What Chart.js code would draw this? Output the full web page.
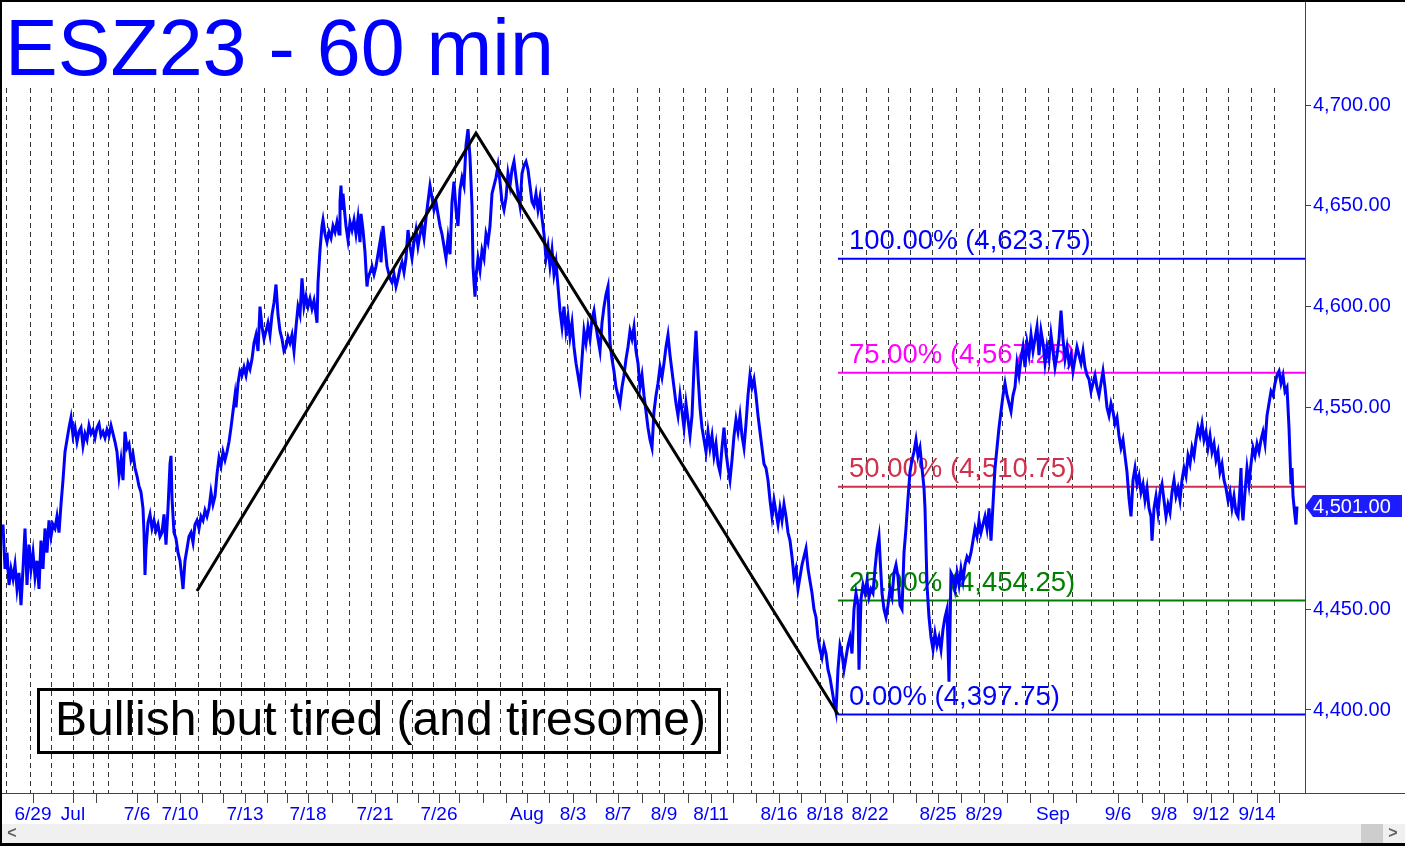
<!DOCTYPE html>
<html>
<head>
<meta charset="utf-8">
<title>ESZ23 - 60 min</title>
<script src="https://cdn.jsdelivr.net/npm/chart.js@4.4.0/dist/chart.umd.min.js"></script>
<style>
  html, body { margin: 0; padding: 0; background: #fff; }
  canvas { display: block; }
</style>
</head>
<body>
<canvas id="chart" width="1405" height="846"></canvas>
<script>
'use strict';

// hourly closes as [bar, price]; bar = hourly bar count from the left edge
const closesJul = [
  [3,4492],[5,4470],[7,4478],[9,4462],[11,4470],[13,4465],[15,4472],[17,4460],[19,4468],[21,4452],
  [23,4470],[25,4490],[27,4462],[29,4482],[31,4470],[33,4478],[35,4466],[37,4474],[39,4460],[41,4484],
  [43,4470],[45,4490],[47,4478],[49,4494],[51,4486],[53,4492],[55,4490],[57,4496],[59,4488],[61,4502],
  [63,4514],[65,4528],[67,4534],[69,4540],[71,4545],[73,4536],[75,4540],[77,4533],[79,4538],[81,4540],
  [83,4531],[85,4537],[87,4534],[89,4541],[91,4537],[93,4539],[95,4535],[97,4540],[99,4542],[101,4536],
  [103,4538],[105,4535],[107,4539],[109,4536],[111,4541],[113,4537],[115,4533],[117,4528],[119,4516],[121,4524],
  [123,4514],[125,4538],[127,4530],[129,4532],[131,4524],[133,4527],[135,4520],[137,4516],[139,4511],[141,4508],
  [143,4500],[144,4488],[145,4467],[146,4480],[148,4493],[150,4497],[152,4490],[154,4494],[156,4489],[158,4492],
  [160,4486],[162,4488],[164,4497],[166,4482],[168,4500],[170,4522],[171,4526],[172,4505],[174,4488],[176,4485],
  [178,4478],[180,4474],[182,4465],[183,4460],[185,4474],[187,4480],[189,4486],[191,4488],[193,4483],[195,4492],
  [197,4494],[199,4490],[201,4496],[203,4494],[205,4499],[207,4496],[209,4500],[211,4508],[213,4502],[215,4506],
  [217,4517],[219,4525],[221,4521],[223,4528],[225,4524],[227,4528],[229,4533],[231,4540],[233,4548],[235,4556],
  [236,4550],[238,4562],[240,4568],[242,4566],[244,4570],[246,4566],[248,4572],[250,4569],[252,4574],[254,4582],
  [256,4586],[258,4578],[260,4600],[262,4590],[264,4584],[266,4588],[268,4592],[270,4586],[272,4596],[274,4602],
  [276,4611],[278,4596],[280,4588],[282,4584],[284,4578],[286,4580],[288,4585],[290,4582],[292,4586],[294,4578],
  [296,4590],[298,4600],[300,4596],[302,4614],[304,4600],[306,4605],[308,4600],[310,4604],[312,4599],[314,4603],
  [316,4596],[317,4592],[318,4612],[320,4628],[322,4640],[323,4643],[325,4636],[327,4632],[329,4637],[331,4634],
  [333,4640],[335,4637],[337,4642],[339,4636],[340,4652],[341,4660],[342,4648],[343,4656],[345,4645],[346,4640],
  [348,4633],[350,4642],[352,4638],[354,4643],[356,4636],[358,4644],[360,4632],[361,4646],[363,4638],[365,4627],
  [366,4618],[367,4610],[368,4614],[370,4617],[372,4620],[374,4616],[376,4620],[378,4626],[380,4632],[381,4622],
  [383,4640],[385,4630],[387,4620],[390,4614],[392,4612],[394,4616],[396,4610],[398,4614],[400,4619],[402,4622],
  [404,4617],[406,4624],[408,4638],[410,4630],[412,4624],[414,4632],[416,4638],[418,4630],[420,4636],[422,4640],
  [424,4634],[426,4644],[428,4652],[430,4660],[432,4654],[434,4648],[436,4652],[438,4646],[440,4640],[442,4636],
  [444,4630],[446,4624],[448,4634],[450,4626],[452,4652],[454,4662],[456,4648],[458,4640],[460,4658],[462,4664],
  [464,4660],[466,4680],[468,4688],[470,4674],[472,4650],[473,4620],[474,4612],[475,4605],[476,4615],[478,4624],
  [480,4618],[482,4628],[484,4624],[486,4636],[488,4632],[490,4640],[492,4656],[494,4660],[496,4664],[498,4670],
  [500,4662],[502,4652],[504,4648],[506,4654],[508,4666],[510,4660],[512,4668],[514,4672],[516,4664],[518,4656],
  [520,4650]
];

const closesAug = [
  [522,4666],[524,4670],[526,4672],[528,4668],[530,4660],[532,4652],[534,4650],[536,4656],[538,4648],[540,4654],
  [542,4644],[544,4636],[546,4624],[548,4630],[550,4620],[552,4628],[554,4616],[556,4622],[558,4610],[560,4598],
  [562,4590],[564,4600],[566,4588],[568,4595],[570,4585],[572,4592],[574,4580],[576,4572],[578,4566],[580,4560],
  [582,4574],[584,4588],[586,4582],[588,4590],[590,4584],[592,4594],[594,4598],[596,4590],[598,4584],[600,4578],
  [602,4592],[604,4600],[606,4606],[608,4610],[610,4582],[612,4574],[614,4568],[616,4560],[618,4556],[620,4552],
  [622,4560],[624,4566],[626,4574],[628,4580],[630,4588],[632,4584],[634,4590],[636,4578],[638,4572],[640,4560],
  [642,4566],[644,4556],[646,4548],[648,4540],[650,4534],[652,4530],[654,4548],[656,4556],[658,4562],[660,4570],
  [662,4565],[664,4572],[666,4580],[668,4586],[670,4576],[672,4568],[674,4560],[676,4552],[678,4546],[680,4556],
  [682,4548],[684,4540],[686,4552],[688,4544],[690,4536],[692,4546],[694,4570],[696,4588],[698,4566],[700,4550],
  [702,4540],[704,4534],[706,4528],[708,4538],[710,4530],[712,4536],[714,4526],[716,4532],[718,4522],[720,4518],
  [722,4530],[724,4540],[726,4528],[728,4520],[730,4514],[732,4524],[734,4536],[736,4544],[738,4538],[740,4546],
  [742,4536],[744,4530],[746,4542],[748,4556],[750,4566],[752,4560],[754,4564],[756,4556],[758,4546],[760,4538],
  [762,4530],[764,4522],[766,4520],[768,4514],[770,4504],[772,4496],[774,4504],[776,4498],[778,4492],[780,4500],
  [782,4494],[784,4502],[786,4496],[788,4488],[790,4484],[792,4476],[794,4466],[796,4470],[798,4460],[800,4466],
  [802,4472],[804,4476],[806,4480],[808,4470],[810,4464],[812,4458],[814,4450],[816,4446],[818,4436],[820,4430],
  [822,4426],[824,4432],[826,4428],[828,4420],[830,4416],[832,4410],[834,4404],[836,4399],[838,4420],[840,4432],
  [842,4428],[844,4420],[846,4426],[848,4432],[850,4436],[852,4428],[854,4450],[856,4458],[858,4452],[859,4420],
  [861,4455],[863,4462],[865,4458],[867,4464],[869,4456],[871,4460],[873,4458],[875,4470],[877,4480],[879,4486],
  [880,4476],[882,4458],[884,4450],[886,4446],[888,4452],[890,4460],[892,4456],[894,4468],[896,4472],[898,4466],
  [900,4452],[902,4450],[904,4478],[906,4490],[908,4505],[910,4518],[912,4524],[914,4528],[916,4534],[918,4526],
  [920,4530],[922,4520],[924,4510],[925,4500],[927,4462],[929,4446],[931,4436],[933,4430],[935,4438],[937,4432],
  [939,4436],[941,4430],[943,4440],[945,4446],[947,4450],[949,4414],[951,4468],[953,4466],[955,4460],[957,4468],
  [959,4462],[961,4470],[963,4464],[965,4472],[967,4476],[969,4474],[971,4478],[973,4484],[975,4490],[977,4486],
  [979,4494],[981,4488],[983,4492],[985,4496],[987,4490],[989,4500],[991,4484],[993,4502],[995,4520],[997,4530],
  [999,4540],[1001,4548],[1003,4556],[1005,4562],[1007,4556],[1009,4552],[1011,4548],[1013,4556],[1015,4560],[1017,4572],
  [1019,4566],[1021,4574],[1023,4580],[1025,4570],[1027,4582],[1029,4576],[1031,4586],[1033,4578],[1035,4584],[1037,4590],
  [1039,4576],[1041,4588],[1043,4582],[1045,4572],[1047,4580]
];

const closesSep = [
  [1049,4574],[1051,4586],[1053,4578],[1055,4570],[1057,4576],[1059,4584],[1061,4598],[1063,4584],[1065,4574],[1067,4580],
  [1069,4572],[1071,4576],[1073,4568],[1075,4574],[1077,4580],[1079,4576],[1081,4572],[1083,4578],[1085,4570],[1087,4566],
  [1089,4564],[1091,4558],[1093,4562],[1095,4566],[1097,4560],[1099,4556],[1101,4562],[1103,4568],[1105,4560],[1107,4550],
  [1109,4546],[1111,4552],[1113,4548],[1115,4542],[1117,4545],[1119,4536],[1121,4530],[1123,4534],[1125,4526],[1127,4518],
  [1129,4505],[1131,4496],[1133,4514],[1135,4520],[1137,4512],[1139,4516],[1141,4508],[1143,4512],[1145,4504],[1147,4510],
  [1149,4500],[1151,4496],[1152,4484],[1154,4500],[1156,4506],[1158,4498],[1160,4508],[1162,4512],[1164,4504],[1166,4496],
  [1168,4502],[1170,4498],[1172,4508],[1174,4514],[1176,4506],[1178,4510],[1180,4504],[1182,4514],[1184,4520],[1186,4516],
  [1188,4526],[1190,4522],[1192,4530],[1194,4526],[1196,4534],[1198,4540],[1200,4536],[1202,4542],[1204,4534],[1206,4538],
  [1208,4530],[1210,4536],[1212,4528],[1214,4532],[1216,4524],[1218,4528],[1220,4518],[1222,4522],[1224,4514],[1226,4510],
  [1228,4504],[1230,4508],[1232,4500],[1234,4506],[1236,4498],[1238,4496],[1240,4510],[1241,4520],[1242,4500],[1243,4494],
  [1245,4508],[1247,4520],[1249,4512],[1251,4522],[1253,4530],[1255,4526],[1257,4532],[1259,4528],[1261,4534],[1263,4538],
  [1265,4532],[1267,4546],[1269,4552],[1271,4558],[1273,4556],[1275,4562],[1277,4566],[1279,4568],[1281,4562],[1283,4566],
  [1285,4558],[1287,4560],[1289,4540],[1291,4512],[1292,4520],[1293,4506],[1295,4496],[1296,4492],[1297,4501]
];

// swing pattern drawn in black
const swingBars = [197, 476, 838];
const swingPrices = [4459, 4686, 4397.75];

// fibonacci levels
const fibStartBar = 838;
const fibPct = ['100.00%', '75.00%', '50.00%', '25.00%', '0.00%'];
const fibLevels = [4623.75, 4567.25, 4510.75, 4454.25, 4397.75];
const fibColors = ['#0000ff', '#ff00ff', '#d0304c', '#008000', '#0000ff'];

// axes
const lastBar = 1305;
const priceTicks = [4400, 4450, 4500, 4550, 4600, 4650, 4700];
const priceMin = 4358.84;
const priceMax = 4708.43;
const dayBars = [6,30,51,73,93,109,132,154,176,198,220,242,264,285,306,327,349,371,392,413,433,455,
  477,500,522,544,567,590,613,637,659,683,706,728,751,773,797,820,842,866,888,910,
  933,956,979,1002,1025,1048,1072,1091,1113,1137,1159,1183,1206,1228,1251,1274];
const tickBars = [33,73,97,137,157,180,202,223,245,267,287,308,332,353,375,397,418,439,460,483,506,527,
  549,573,596,618,642,664,688,711,733,756,779,802,825,848,870,893,916,938,961,984,1007,1030,1053,1076,
  1118,1142,1164,1187,1211,1233,1257,1279];
const tickText = ['6/29','Jul','','7/6','','7/10','','','7/13','','','7/18','','','7/21','','','7/26','','','','Aug',
  '','8/3','','8/7','','8/9','','8/11','','','8/16','','8/18','','8/22','','','8/25','','8/29','','','Sep','',
  '9/6','','9/8','','9/12','','9/14',''];

const chartTitle = 'ESZ23 - 60 min';
const note = 'Bullish but tired (and tiresome)';

const FONT = "'Liberation Sans', Arial, sans-serif";
const fmt = v => v.toLocaleString('en-US', { minimumFractionDigits: 2, maximumFractionDigits: 2 });

const closes = closesJul.concat(closesAug, closesSep);
const lastClose = closes[closes.length - 1][1];

const datasets = [
  {
    data: swingBars.map((b, i) => ({ x: b, y: swingPrices[i] })),
    borderColor: '#000', borderWidth: 3, pointRadius: 0, tension: 0
  },
  {
    data: closes.map(c => ({ x: c[0], y: c[1] })),
    borderColor: '#0000ff', borderWidth: 3, pointRadius: 0, tension: 0
  }
];
fibLevels.forEach((lv, i) => {
  datasets.push({
    data: [{ x: fibStartBar, y: lv }, { x: lastBar, y: lv }],
    borderColor: fibColors[i], borderWidth: 2, pointRadius: 0
  });
});

const decor = {
  id: 'decor',
  beforeDraw(chart) {
    const ctx = chart.ctx;
    ctx.save();
    ctx.fillStyle = '#fff';
    ctx.fillRect(0, 0, chart.width, chart.height);
    ctx.restore();
  },
  beforeDatasetsDraw(chart) {
    const { ctx, scales } = chart;
    ctx.save();
    ctx.font = '27.5px ' + FONT;
    ctx.textBaseline = 'alphabetic';
    fibLevels.forEach((lv, i) => {
      ctx.fillStyle = fibColors[i];
      const y = scales.y.getPixelForValue(lv);
      ctx.fillText(fibPct[i] + ' (' + fmt(lv) + ')', scales.x.getPixelForValue(fibStartBar) + 11, y - 10);
    });
    ctx.restore();
  },
  afterDraw(chart) {
    const { ctx, scales, chartArea } = chart;
    ctx.save();

    // title
    ctx.fillStyle = '#0000ff';
    ctx.font = '79px ' + FONT;
    ctx.textBaseline = 'alphabetic';
    ctx.fillText(chartTitle, 5, 75);

    // axis lines carried to the edges
    ctx.strokeStyle = '#444';
    ctx.lineWidth = 1;
    ctx.beginPath();
    ctx.moveTo(chartArea.right + 0.5, 0);
    ctx.lineTo(chartArea.right + 0.5, chartArea.top);
    ctx.moveTo(chartArea.right, chartArea.bottom + 0.5);
    ctx.lineTo(chart.width, chartArea.bottom + 0.5);
    ctx.stroke();

    // note box
    ctx.strokeStyle = '#000';
    ctx.lineWidth = 3;
    ctx.strokeRect(38.5, 689.5, 681, 63);
    ctx.fillStyle = '#000';
    ctx.font = '48px ' + FONT;
    ctx.fillText(note, 55, 735);

    // last price tag
    const yp = Math.round(scales.y.getPixelForValue(lastClose));
    const x0 = chartArea.right;
    ctx.fillStyle = '#1c1cff';
    ctx.beginPath();
    ctx.moveTo(x0, yp);
    ctx.lineTo(x0 + 8, yp - 11);
    ctx.lineTo(x0 + 97, yp - 11);
    ctx.lineTo(x0 + 97, yp + 11);
    ctx.lineTo(x0 + 8, yp + 11);
    ctx.closePath();
    ctx.fill();
    ctx.fillStyle = '#fff';
    ctx.font = '20px ' + FONT;
    ctx.textBaseline = 'middle';
    ctx.fillText(fmt(lastClose), x0 + 8, yp + 1);

    // scroll bar
    ctx.fillStyle = '#f0f0f0';
    ctx.fillRect(0, 824, chart.width, 20);
    ctx.fillStyle = '#cdcdcd';
    ctx.fillRect(1361, 824, 22, 20);
    ctx.fillStyle = '#606060';
    ctx.font = 'bold 16px ' + FONT;
    ctx.textAlign = 'center';
    ctx.fillText('<', 12, 834);
    ctx.fillText('>', 1393, 834);

    // frame
    ctx.fillStyle = '#000';
    ctx.fillRect(0, 0, chart.width, 2);
    ctx.fillRect(0, 0, 2, chart.height);
    ctx.fillRect(0, chart.height - 3, chart.width, 3);
    ctx.restore();
  }
};

new Chart(document.getElementById('chart').getContext('2d'), {
  type: 'line',
  data: { datasets: datasets },
  options: {
    responsive: false,
    animation: false,
    events: [],
    layout: { padding: { top: 88, left: 0, right: 0, bottom: 0 } },
    plugins: { legend: { display: false }, tooltip: { enabled: false }, title: { display: false } },
    scales: {
      x: {
        type: 'linear', position: 'bottom', min: 0, max: lastBar,
        afterBuildTicks: s => { s.ticks = tickBars.map(v => ({ value: v })); },
        afterFit: s => { s.height = 53; },
        grid: { drawOnChartArea: false, drawTicks: true, tickLength: 10, color: '#444' },
        border: { display: true, color: '#444' },
        ticks: {
          autoSkip: false, maxRotation: 0, padding: 0, color: '#0000ff',
          font: { family: FONT, size: 19 },
          callback: (v, i) => tickText[i]
        }
      },
      x2: {
        type: 'linear', position: 'top', min: 0, max: lastBar,
        afterBuildTicks: s => { s.ticks = dayBars.map(v => ({ value: v })); },
        afterFit: s => { s.height = 0; },
        grid: { drawTicks: false, color: '#333', lineWidth: 1 },
        border: { display: false, dash: [5, 4] },
        ticks: { display: false }
      },
      y: {
        type: 'linear', position: 'right', min: priceMin, max: priceMax,
        afterBuildTicks: s => { s.ticks = priceTicks.map(v => ({ value: v })); },
        afterFit: s => { s.width = 100; },
        grid: { drawOnChartArea: false, tickLength: 6, color: '#444' },
        border: { color: '#444' },
        ticks: {
          padding: 2, color: '#0000ff',
          font: { family: FONT, size: 20 },
          callback: v => fmt(v)
        }
      }
    }
  },
  plugins: [decor]
});
</script>
</body>
</html>
